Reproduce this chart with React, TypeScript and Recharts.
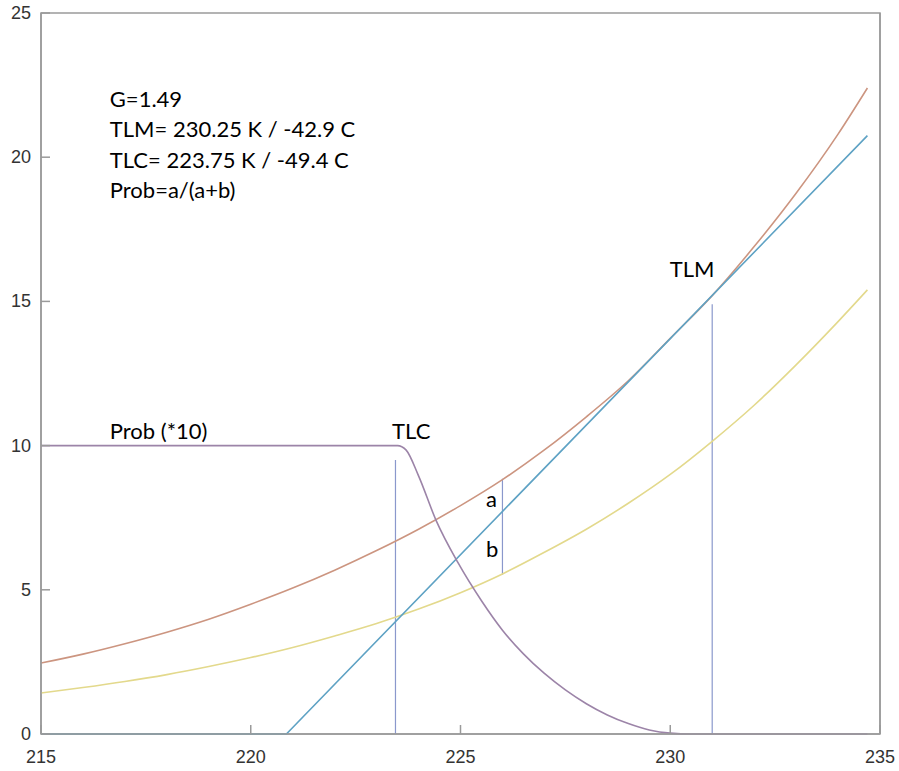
import { LineChart, Line, XAxis, YAxis, ReferenceLine, ReferenceArea, ReferenceDot } from 'recharts';

// temperature (K) and values
const redT = [215, 216, 217, 218, 219, 220, 221, 222, 223, 224, 225, 226, 227, 228, 229, 230, 231, 232, 233, 234, 234.7];
const redV = [2.46, 2.77, 3.13, 3.53, 3.98, 4.5, 5.06, 5.68, 6.36, 7.1, 7.92, 8.82, 9.85, 11.0, 12.25, 13.72, 15.2, 16.9, 18.75, 20.8, 22.4];

const yellowT = [215, 216, 217, 218, 219, 220, 221, 222, 223, 224, 225, 226, 227, 228, 229, 230, 231, 232, 233, 234, 234.7];
const yellowV = [1.42, 1.61, 1.82, 2.06, 2.34, 2.65, 3.0, 3.4, 3.83, 4.33, 4.9, 5.55, 6.3, 7.1, 8.0, 9.0, 10.15, 11.4, 12.8, 14.3, 15.4];

const blueT = [215, 220.85, 234.7];
const blueV = [0, 0, 20.75];

const probT = [215, 223.5, 223.7, 224, 224.42, 224.94, 225.5, 226, 226.5, 227, 227.5, 228, 228.5, 229, 229.5, 230, 230.5, 234.7];
const probV = [10, 10, 9.85, 8.95, 7.4, 5.94, 4.62, 3.6, 2.78, 2.1, 1.53, 1.05, 0.66, 0.36, 0.14, 0.03, 0, 0];

// vertical markers (TLC, a/b, TLM)
const markT = [223.45, 226, 231.0];
const markLow = [0, 5.52, 0];
const markHigh = [9.5, 8.85, 14.9];

const xTicks = [215, 220, 225, 230, 235];
const yTicks = [0, 5, 10, 15, 20, 25];

const notes = [
  { text: 'G=1.49', t: 216.64, v: 21.75 },
  { text: 'TLM= 230.25 K / -42.9 C', t: 216.64, v: 20.7 },
  { text: 'TLC= 223.75 K / -49.4 C', t: 216.64, v: 19.63 },
  { text: 'Prob=a/(a+b)', t: 216.64, v: 18.58 },
  { text: 'Prob (*10)', t: 216.64, v: 10.23 },
  { text: 'TLC', t: 223.37, v: 10.23 },
  { text: 'TLM', t: 229.99, v: 15.85 },
  { text: 'a', t: 225.61, v: 7.87 },
  { text: 'b', t: 225.61, v: 6.14 },
];

const toRows = (ts: number[], vs: number[]) => ts.map((t, i) => ({ t, v: vs[i] }));

const AXIS = '#9a9a9a';
const LABEL_FONT = '"Liberation Sans", Arial, sans-serif';

function BottomTick(props: any) {
  const { x, y, payload } = props;
  return (
    <g>
      <line x1={x} x2={x} y1={y} y2={y - 9} stroke={AXIS} strokeWidth={1.5} />
      <text x={x} y={y + 23} textAnchor="middle" dominantBaseline="central" fill="#333" fontSize={18} fontFamily={LABEL_FONT}>
        {payload.value}
      </text>
    </g>
  );
}

function LeftTick(props: any) {
  const { x, y, payload } = props;
  return (
    <g>
      <line x1={x} x2={x + 9} y1={y} y2={y} stroke={AXIS} strokeWidth={1.5} />
      <text x={x - 10} y={y} textAnchor="end" dominantBaseline="central" fill="#333" fontSize={18} fontFamily={LABEL_FONT}>
        {payload.value}
      </text>
    </g>
  );
}

function RightTick(props: any) {
  const { x, y } = props;
  return <line x1={x} x2={x - 9} y1={y} y2={y} stroke={AXIS} strokeWidth={1.5} />;
}

export default function App() {
  return (
    <div style={{ position: 'absolute', left: 0, top: 0, background: '#fff' }}>
      <LineChart width={899} height={771} margin={{ top: 13, right: 0, bottom: 0, left: 0 }}>
        <XAxis
          dataKey="t"
          type="number"
          domain={[215, 235]}
          ticks={xTicks}
          allowDataOverflow
          height={37}
          tickSize={0}
          tickMargin={0}
          tickLine={false}
          axisLine={{ stroke: AXIS, strokeWidth: 1.5 }}
          tick={<BottomTick />}
        />
        <YAxis
          yAxisId="l"
          type="number"
          domain={[0, 25]}
          ticks={yTicks}
          width={41}
          tickSize={0}
          tickMargin={0}
          tickLine={false}
          axisLine={{ stroke: AXIS, strokeWidth: 1.5 }}
          tick={<LeftTick />}
        />
        <YAxis
          yAxisId="r"
          orientation="right"
          type="number"
          domain={[0, 25]}
          ticks={yTicks}
          width={19}
          tickSize={0}
          tickMargin={0}
          tickLine={false}
          axisLine={{ stroke: AXIS, strokeWidth: 1.5 }}
          tick={<RightTick />}
        />
        <ReferenceArea yAxisId="l" x1={215} x2={235} y1={0} y2={25} fill="none" stroke={AXIS} strokeWidth={1.5} />

        {markT.map((t, i) => (
          <ReferenceLine
            key={`m${i}`}
            yAxisId="l"
            segment={[{ x: t, y: markLow[i] }, { x: t, y: markHigh[i] }]}
            stroke="#8a98cc"
            strokeWidth={1.2}
          />
        ))}

        <Line yAxisId="l" data={toRows(yellowT, yellowV)} dataKey="v" type="monotone" stroke="#e3d98c" strokeWidth={1.6} dot={false} isAnimationActive={false} />
        <Line yAxisId="l" data={toRows(redT, redV)} dataKey="v" type="monotone" stroke="#cc9580" strokeWidth={1.6} dot={false} isAnimationActive={false} />
        <Line yAxisId="l" data={toRows(blueT, blueV)} dataKey="v" type="linear" stroke="#5ea2c4" strokeWidth={1.6} dot={false} isAnimationActive={false} />
        <Line yAxisId="l" data={toRows(probT, probV)} dataKey="v" type="monotone" stroke="#9c84a8" strokeWidth={1.6} dot={false} isAnimationActive={false} />

        {notes.map((n, i) => (
          <ReferenceDot
            key={`n${i}`}
            yAxisId="l"
            x={n.t}
            y={n.v}
            r={0}
            shape={(p: any) => (
              <text x={p.cx} y={p.cy} fill="#000" fontSize={22} fontFamily="Lato, 'Open Sans', sans-serif">
                {n.text}
              </text>
            )}
          />
        ))}
      </LineChart>
    </div>
  );
}
